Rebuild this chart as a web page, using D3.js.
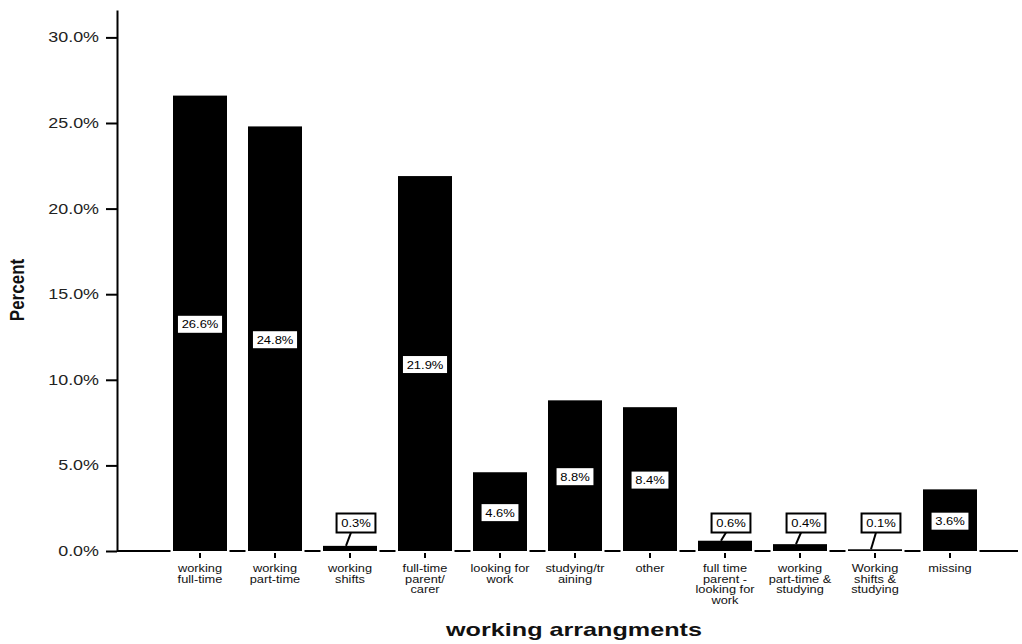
<!DOCTYPE html>
<html>
<head>
<meta charset="utf-8">
<script src="https://cdn.jsdelivr.net/npm/d3@7"></script>
<style>
  body { margin: 0; background: #fff; }
  text { font-family: "Liberation Sans", Arial, sans-serif; }
</style>
</head>
<body>
<svg id="chart" width="1022" height="644"></svg>
<script>
// category tick labels, already wrapped the way the original wraps them
var categories = [
    ["working", "full-time"],
    ["working", "part-time"],
    ["working", "shifts"],
    ["full-time", "parent/", "carer"],
    ["looking for", "work"],
    ["studying/tr", "aining"],
    ["other"],
    ["full time", "parent -", "looking for", "work"],
    ["working", "part-time &", "studying"],
    ["Working", "shifts &", "studying"],
    ["missing"]
];
var percents = [26.6, 24.8, 0.3, 21.9, 4.6, 8.8, 8.4, 0.6, 0.4, 0.1, 3.6];
var yTicks = [0, 5, 10, 15, 20, 25, 30];

// the original's text is drawn a bit wide, so stretch it horizontally
var stretch = 1.28;

var svg = d3.select("#chart");

var x = d3.scaleBand()
    .domain(d3.range(categories.length))
    .range([162.5, 987.5])
    .paddingInner(0.28)
    .paddingOuter(0.14);

var y = d3.scaleLinear()
    .domain([0, 31.6])
    .range([551, 10]);

// y axis
var yAxis = svg.append("g")
    .attr("transform", "translate(117,0)")
    .call(d3.axisLeft(y)
        .tickValues(yTicks)
        .tickFormat(function (d) { return d.toFixed(1) + "%"; })
        .tickSize(11)
        .tickSizeOuter(0)
        .tickPadding(7));
yAxis.selectAll("path, line").attr("stroke", "#000").attr("stroke-width", 2);
yAxis.selectAll("text")
    .attr("font-size", 14)
    .attr("fill", "#222")
    .attr("x", -18 / stretch)
    .attr("transform", "scale(" + stretch + ",1)")
    .style("font-family", "Liberation Sans, Arial, sans-serif");

// baseline
svg.append("line")
    .attr("x1", 117).attr("x2", 1018)
    .attr("y1", y(0)).attr("y2", y(0))
    .attr("stroke", "#000").attr("stroke-width", 2);

// white gaps in the baseline around each bar
svg.selectAll("rect.gap")
    .data(percents)
    .enter()
    .append("rect")
    .attr("class", "gap")
    .attr("x", function (d, i) { return x(i) - 2.5; })
    .attr("width", x.bandwidth() + 5)
    .attr("y", y(0) - 2)
    .attr("height", 4)
    .attr("fill", "#fff");

// bars
svg.selectAll("rect.bar")
    .data(percents)
    .enter()
    .append("rect")
    .attr("class", "bar")
    .attr("x", function (d, i) { return x(i); })
    .attr("width", x.bandwidth())
    .attr("y", function (d) { return y(d); })
    .attr("height", function (d) { return y(0) - y(d); })
    .attr("fill", "#000");

// x ticks + multi line labels
var xAxis = svg.append("g")
    .attr("transform", "translate(0," + (y(0) + 2) + ")")
    .call(d3.axisBottom(x).tickSize(5).tickFormat(""));
xAxis.select(".domain").remove();
xAxis.selectAll("line").attr("stroke", "#000").attr("stroke-width", 2);

xAxis.selectAll(".tick")
    .append("text")
    .attr("fill", "#111")
    .attr("font-size", 10.5)
    .attr("text-anchor", "middle")
    .attr("transform", "scale(1.22,1)")
    .attr("y", 19)
    .selectAll("tspan")
    .data(function (d) { return categories[d]; })
    .enter()
    .append("tspan")
    .attr("x", 0)
    .attr("dy", function (d, i) { return i == 0 ? 0 : 10.7; })
    .text(function (d) { return d; });

// value labels
var labels = svg.selectAll("g.valueLabel")
    .data(percents)
    .enter()
    .append("g")
    .attr("class", "valueLabel");

labels.each(function (d, i) {
    var g = d3.select(this);
    var cx = x(i) + x.bandwidth() / 2;
    var inside = d >= 1;
    var cy = inside ? (y(d) + y(0)) / 2 + 1 : y(0) - 28;
    var bx = inside ? cx : cx + 6;
    var sx = 1.18;

    var txt = g.append("text")
        .attr("transform", "translate(" + bx + "," + (cy + 4) + ") scale(" + sx + ",1)")
        .attr("text-anchor", "middle")
        .attr("font-size", 11)
        .attr("fill", "#000")
        .text(d.toFixed(1) + "%");
    var w = txt.node().getBBox().width * sx + 9;
    var h = 19;

    g.insert("rect", "text")
        .attr("x", bx - w / 2)
        .attr("y", cy - h / 2)
        .attr("width", w)
        .attr("height", h)
        .attr("fill", "#fff")
        .attr("stroke", "#000")
        .attr("stroke-width", 2);

    if (!inside) {
        g.append("line")
            .attr("x1", cx + 1).attr("y1", cy + h / 2)
            .attr("x2", cx - 4).attr("y2", y(d))
            .attr("stroke", "#000")
            .attr("stroke-width", 2);
    }
});

// axis titles
svg.append("text")
    .attr("transform", "translate(574,636) scale(1.4,1)")
    .attr("text-anchor", "middle")
    .attr("font-size", 18)
    .attr("font-weight", "bold")
    .attr("fill", "#111")
    .text("working arrangments");

svg.append("text")
    .attr("transform", "translate(24,290) rotate(-90) scale(1,1.2)")
    .attr("text-anchor", "middle")
    .attr("font-size", 17)
    .attr("font-weight", "bold")
    .attr("fill", "#111")
    .text("Percent");
</script>
</body>
</html>
